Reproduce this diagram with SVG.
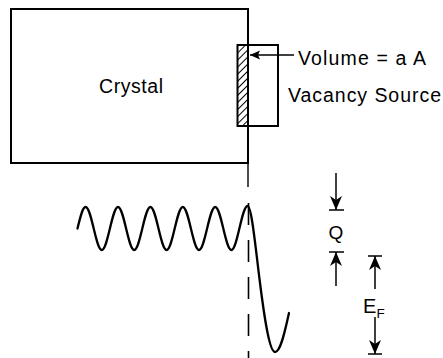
<svg xmlns="http://www.w3.org/2000/svg" width="443" height="358" viewBox="0 0 443 358">
<style>
.txt{font-family:"Liberation Sans",Arial,sans-serif;fill:#000}
.box{fill:none;stroke:#000;stroke-width:2}
.thin{fill:none;stroke:#000;stroke-width:1.4}
.arr{fill:none;stroke:#000;stroke-width:1.5}
.tick{fill:none;stroke:#000;stroke-width:1.5}
.wave{fill:none;stroke:#000;stroke-width:2.3;stroke-linejoin:round;stroke-linecap:round}
</style>
<defs>
<pattern id="hatch" patternUnits="userSpaceOnUse" width="5" height="5" patternTransform="rotate(45)">
<rect width="5" height="5" fill="#fff"/>
<line x1="0" y1="0" x2="0" y2="5" stroke="#000" stroke-width="2"/>
</pattern>
<marker id="headS" markerUnits="userSpaceOnUse" viewBox="-10 -5 10 10" refX="0" refY="0" markerWidth="10" markerHeight="10" orient="auto">
<path d="M0,0 L-10,-4.5 L-8,0 L-10,4.5 Z" fill="#000"/>
</marker>
<marker id="headL" markerUnits="userSpaceOnUse" viewBox="-14 -7 14 14" refX="0" refY="0" markerWidth="14" markerHeight="14" orient="auto">
<path d="M0,0 L-14,-6 L-10,0 L-14,6 Z" fill="#000"/>
</marker>
</defs>

<g id="crystal">
<rect class="box" x="11" y="9" width="237" height="154"/>
<text class="txt" x="99" y="93" font-size="19.5" textLength="64">Crystal</text>
</g>

<g id="vacancy-source">
<rect class="box" x="248" y="45" width="30" height="81"/>
<text class="txt" x="288" y="102" font-size="19.5" textLength="153">Vacancy Source</text>
</g>

<g id="volume">
<rect x="237.5" y="45" width="10.5" height="81" fill="url(#hatch)" stroke="#000" stroke-width="2"/>
<text class="txt" x="298" y="65" font-size="19.5" textLength="128">Volume = a A</text>
</g>

<g id="interface">
<line class="thin" x1="248" y1="163" x2="248" y2="187"/>
<line x1="248.5" y1="203" x2="248.5" y2="358" stroke="#000" stroke-width="1.6" stroke-dasharray="22 15"/>
</g>

<g id="potential">
<path class="wave" d="M77.5,228.5 C80.2,217.2 82.6,207 85.6,207 C91.5,207 95.9,250 101.8,250 C107.7,250 112.1,207 118,207 C123.9,207 128.3,250 134.2,250 C140.1,250 144.5,207 150.4,207 C156.3,207 160.7,250 166.6,250 C172.5,250 176.9,207 182.8,207 C188.7,207 193.1,250 199,250 C204.9,250 209.3,207 215.2,207 C221.1,207 225.5,250 231.4,250 C237.3,250 241.7,206 247.6,206 C251.6,206 255.5,247 259.5,279 C263.5,311 269,352 275,352 C281,352 285.5,328 289,313"/>
</g>

<g id="Q-label">
<line class="tick" x1="329" y1="210" x2="344" y2="210"/>
<line class="tick" x1="329" y1="252" x2="344" y2="252"/>
<text class="txt" x="336" y="239" font-size="19" text-anchor="middle">Q</text>
</g>

<g id="EF-label">
<line class="tick" x1="368" y1="256" x2="382" y2="256"/>
<line class="tick" x1="368" y1="354" x2="382" y2="354"/>
<text class="txt" x="363" y="313" font-size="20">E</text>
<text class="txt" x="376.5" y="318" font-size="13.5">F</text>
</g>

<g id="connectors">
<line class="arr" x1="294" y1="55" x2="250" y2="55" marker-end="url(#headS)"/>
<line class="arr" x1="336" y1="173" x2="336" y2="210" marker-end="url(#headL)"/>
<line class="arr" x1="336" y1="286" x2="336" y2="252" marker-end="url(#headL)"/>
<line class="arr" x1="375" y1="289" x2="375" y2="256" marker-end="url(#headL)"/>
<line class="arr" x1="375" y1="317" x2="375" y2="354" marker-end="url(#headL)"/>
</g>
</svg>
